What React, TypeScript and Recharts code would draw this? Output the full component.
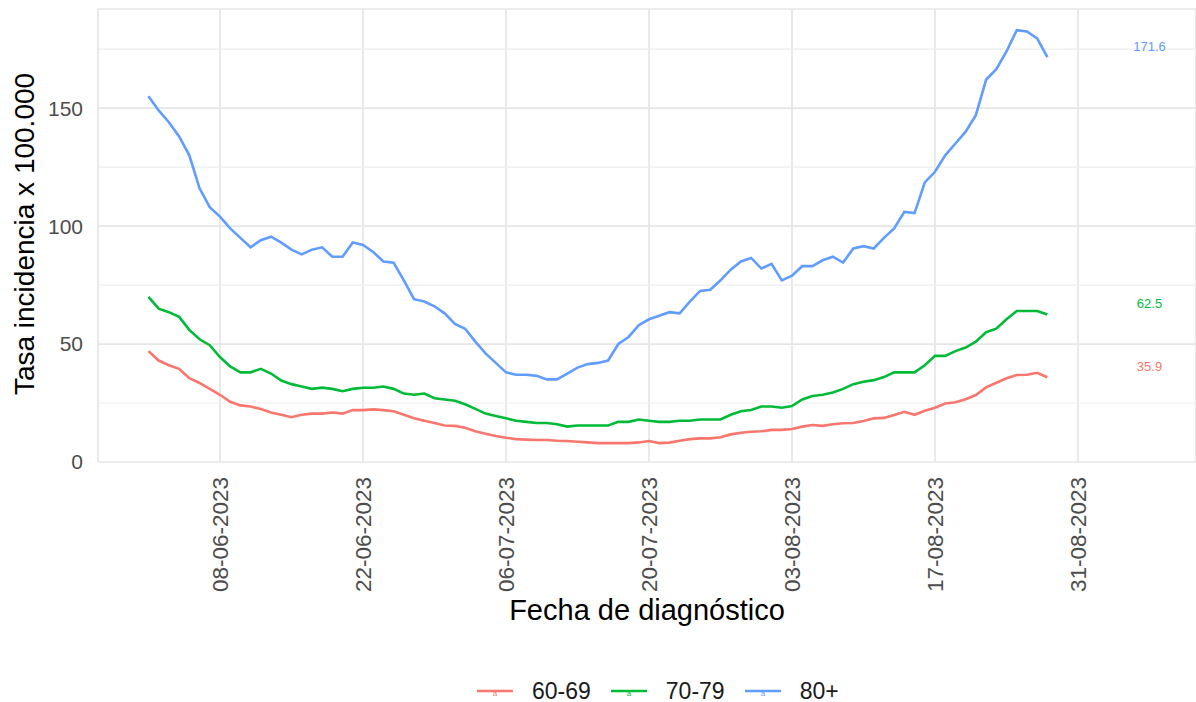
import { CartesianGrid, Legend, Line, LineChart, ReferenceDot, ReferenceLine, XAxis, YAxis } from 'recharts';

const FONT = '"Liberation Sans", Arial, sans-serif';

const AGE_GROUPS = ['60-69', '70-79', '80+'];
const GROUP_COLORS = ['#F8766D', '#00BA38', '#619CFF'];

// tasa por 100.000, un valor por día desde 01-06-2023
const RATE_60_69 = [
  47, 43, 41, 39.5, 35.5, 33.5, 31, 28.5, 25.5, 24, 23.5, 22.5, 21, 20, 19, 20, 20.5, 20.5, 21, 20.5,
  22, 22, 22.3, 22, 21.5, 20, 18.5, 17.5, 16.5, 15.5, 15.3, 14.5, 13, 12, 11, 10.3, 9.7, 9.5, 9.3, 9.3,
  9, 8.9, 8.6, 8.3, 8, 8, 8, 8, 8.3, 8.9, 8, 8.2, 9, 9.7, 10, 10, 10.5, 11.7, 12.4, 12.8,
  13, 13.6, 13.6, 14, 15, 15.7, 15.3, 16, 16.4, 16.5, 17.4, 18.5, 18.7, 19.9, 21.3, 20, 21.7, 23, 24.8, 25.3,
  26.6, 28.4, 31.6, 33.6, 35.5, 36.9, 37, 37.8, 35.9,
];
const RATE_70_79 = [
  70, 65, 63.5, 61.5, 56, 52, 49.5, 44.5, 40.5, 38, 38, 39.5, 37.5, 34.5, 33, 32, 31, 31.5, 31, 30,
  31, 31.5, 31.5, 32, 31, 29, 28.5, 29, 27, 26.5, 26, 24.5, 22.5, 20.5, 19.5, 18.5, 17.5, 17, 16.5, 16.5,
  16, 15, 15.5, 15.5, 15.5, 15.5, 17, 17, 18, 17.5, 17, 17, 17.5, 17.5, 18, 18, 18, 20, 21.5, 22,
  23.5, 23.5, 23, 23.7, 26.5, 28, 28.5, 29.5, 31, 33, 34, 34.7, 36, 38, 38, 38, 41, 45, 45, 47,
  48.5, 51, 55, 56.5, 60.5, 64, 64, 64, 62.5,
];
const RATE_80_PLUS = [
  155, 149, 144, 138, 130, 116, 108, 104, 99, 95, 91, 94, 95.5, 93, 90, 88, 90, 91, 87, 87,
  93, 92, 89, 85, 84.5, 77, 69, 68, 66, 63, 58.5, 56.5, 51, 46, 42, 38, 37, 37, 36.5, 35,
  35, 37.5, 40, 41.5, 42, 43, 50, 53, 58, 60.5, 62, 63.5, 63, 68, 72.5, 73, 77, 81.5, 85, 86.5,
  82, 84, 77, 79, 83, 83, 85.5, 87, 84.5, 90.5, 91.5, 90.5, 95, 99, 106, 105.5, 118.5, 123, 130, 135,
  140, 147, 162, 166.5, 174, 183, 182.5, 179.5, 171.6,
];

const TICK_DAYS = [7, 21, 35, 49, 63, 77, 91];
const TICK_LABELS = ['08-06-2023', '22-06-2023', '06-07-2023', '20-07-2023', '03-08-2023', '17-08-2023', '31-08-2023'];
const Y_TICKS = [0, 50, 100, 150];
const Y_MINOR = [25, 75, 125, 175];
const LAST_LABEL_DAY = 98;

const SERIES = [RATE_60_69, RATE_70_79, RATE_80_PLUS];

const data = RATE_60_69.map((_, day) => ({
  day,
  '60-69': RATE_60_69[day],
  '70-79': RATE_70_79[day],
  '80+': RATE_80_PLUS[day],
}));

function DateTick({ x, y, payload }: any) {
  const label = TICK_LABELS[TICK_DAYS.indexOf(payload.value)] ?? '';
  return (
    <text
      transform={`translate(${x},${y}) rotate(-90)`}
      textAnchor="end"
      dy="0.35em"
      fontSize={22.5}
      fontFamily={FONT}
      fill="#4d4d4d"
    >
      {label}
    </text>
  );
}

function LegendContent() {
  return (
    <div style={{ display: 'flex', alignItems: 'center', fontFamily: FONT, fontSize: 23, color: '#1a1a1a' }}>
      {AGE_GROUPS.map((group, i) => (
        <div key={group} style={{ display: 'flex', alignItems: 'center', marginRight: 20 }}>
          <svg width={36} height={20} style={{ marginRight: 19 }}>
            <line x1={0} y1={9} x2={36} y2={9} stroke={GROUP_COLORS[i]} strokeWidth={2.5} />
            <text x={18} y={14} textAnchor="middle" fontSize={8} fontFamily={FONT} fill={GROUP_COLORS[i]}>
              a
            </text>
          </svg>
          <span>{group}</span>
        </div>
      ))}
    </div>
  );
}

export default function App() {
  return (
    <div style={{ position: 'absolute', left: 0, top: 0, background: '#fff' }}>
      <LineChart width={1196} height={702} data={data} margin={{ top: 9, right: 0, left: 0, bottom: 0 }}>
        <CartesianGrid stroke="#e6e6e6" strokeWidth={1.7} />
        {Y_MINOR.map((v) => (
          <ReferenceLine key={v} y={v} stroke="#eeeeee" strokeWidth={1.2} />
        ))}
        <XAxis
          dataKey="day"
          type="number"
          domain={[-4.94, 102.55]}
          ticks={TICK_DAYS}
          tick={<DateTick />}
          tickLine={false}
          axisLine={false}
          tickSize={0}
          tickMargin={15}
          height={240}
          interval={0}
          label={{
            value: 'Fecha de diagnóstico',
            position: 'insideBottom',
            offset: 82,
            fontSize: 29,
            fontFamily: FONT,
            fill: '#000',
          }}
        />
        <YAxis
          domain={[0, 192]}
          ticks={Y_TICKS}
          width={98}
          tickLine={false}
          axisLine={false}
          tickSize={0}
          tickMargin={15}
          tick={{ fontSize: 21, fontFamily: FONT, fill: '#4d4d4d' }}
          label={{
            content: () => (
              <text transform="translate(34,234) rotate(-90)" textAnchor="middle" fontSize={28} fontFamily={FONT} fill="#000">
                Tasa incidencia x 100.000
              </text>
            ),
          }}
        />
        {AGE_GROUPS.map((group, i) => (
          <Line
            key={group}
            type="linear"
            dataKey={group}
            stroke={GROUP_COLORS[i]}
            strokeWidth={2.6}
            dot={false}
            activeDot={false}
            isAnimationActive={false}
          />
        ))}
        {AGE_GROUPS.map((group, i) => {
          const last = SERIES[i][SERIES[i].length - 1];
          return (
            <ReferenceDot
              key={`lbl-${group}`}
              x={LAST_LABEL_DAY}
              y={last}
              r={0}
              stroke="none"
              fill="none"
              label={{
                content: ({ viewBox }: any) => {
                  const cx = viewBox.x + (viewBox.width ?? 0) / 2;
                  const cy = viewBox.y + (viewBox.height ?? 0) / 2;
                  return (
                    <text x={cx} y={cy - 11} textAnchor="middle" dominantBaseline="central" fontSize={13} fontFamily={FONT} fill={GROUP_COLORS[i]}>
                      {last}
                    </text>
                  );
                },
              }}
            />
          );
        })}
        <Legend
          layout="horizontal"
          verticalAlign="middle"
          align="center"
          content={<LegendContent />}
          wrapperStyle={{ left: 477, top: 678, width: 'auto' }}
        />
      </LineChart>
    </div>
  );
}
